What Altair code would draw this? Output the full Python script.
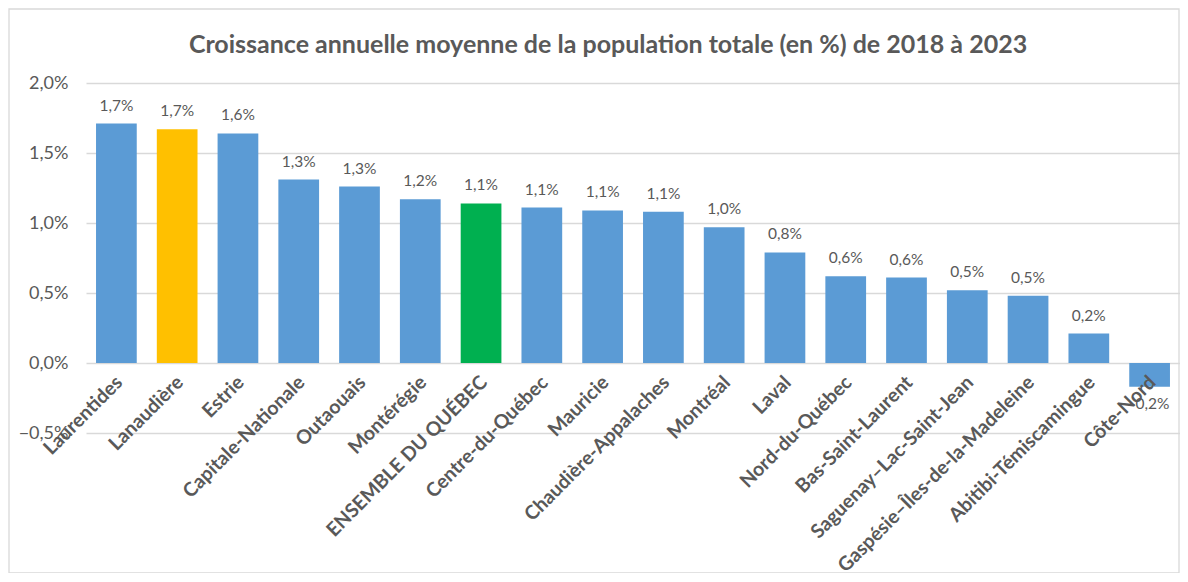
import altair as alt
import pandas as pd

regions = ["Laurentides", "Lanaudière", "Estrie", "Capitale-Nationale", "Outaouais",
           "Montérégie", "ENSEMBLE DU QUÉBEC", "Centre-du-Québec", "Mauricie",
           "Chaudière-Appalaches", "Montréal", "Laval", "Nord-du-Québec",
           "Bas-Saint-Laurent", "Saguenay–Lac-Saint-Jean", "Gaspésie–Îles-de-la-Madeleine",
           "Abitibi-Témiscamingue", "Côte-Nord"]
values = [1.71, 1.67, 1.64, 1.31, 1.26, 1.17, 1.14, 1.11, 1.09, 1.08, 0.97, 0.79,
          0.62, 0.61, 0.52, 0.48, 0.21, -0.17]
groups = ["region"] * 18
groups[1] = "lanaudiere"
groups[6] = "ensemble"
y_ticks = [-0.5, 0.0, 0.5, 1.0, 1.5, 2.0]

labels = [f"{v:.1f}".replace(".", ",") + "%" for v in values]
df = pd.DataFrame({"region": regions, "value": values, "group": groups, "label": labels})

FONT = "Lato"
GRAY = "#595959"

x_enc = alt.X("region:N", sort=regions, title=None,
              scale=alt.Scale(paddingInner=0.33, paddingOuter=0.165),
              axis=alt.Axis(labelAngle=-45, labelAlign="right", labelBaseline="middle",
                            labelFontSize=19.5, labelFontWeight="bold", labelColor=GRAY,
                            labelFont=FONT, domain=False, ticks=False, labelPadding=16,
                            labelOffset=3, offset=-70, labelOverlap=False, labelLimit=400,
                            zindex=1))
y_enc = alt.Y("value:Q", title=None,
              scale=alt.Scale(domain=[-0.5, 2.0], nice=False),
              axis=alt.Axis(values=y_ticks, labelExpr="replace(format(datum.value, '.1f'), '.', ',') + '%'",
                            labelFontSize=18, labelColor=GRAY, labelFont=FONT,
                            domain=False, ticks=False, labelPadding=18,
                            gridColor="#D9D9D9", gridWidth=1.3))

base = alt.Chart(df)

bars = base.mark_bar().encode(
    x=x_enc, y=y_enc,
    color=alt.Color("group:N", legend=None,
                    scale=alt.Scale(domain=["region", "lanaudiere", "ensemble"],
                                    range=["#5B9BD5", "#FFC000", "#00B050"])),
)

pos_text = base.transform_filter("datum.value >= 0").mark_text(
    baseline="bottom", dy=-10, fontSize=15.5, color=GRAY, font=FONT
).encode(x=alt.X("region:N", sort=regions), y="value:Q", text="label:N")

neg_text = base.transform_filter("datum.value < 0").mark_text(
    baseline="top", dy=10, fontSize=15.5, color=GRAY, font=FONT
).encode(x=alt.X("region:N", sort=regions), y="value:Q", text="label:N")

border = alt.Chart(pd.DataFrame({"a": [0]})).mark_rect(
    fill=None, stroke="#D9D9D9", strokeWidth=1.3
).encode(x=alt.value(-77), x2=alt.value(1093), y=alt.value(-74), y2=alt.value(490))

chart = alt.layer(border, bars, pos_text, neg_text).properties(
    width=1094, height=350,
    title=alt.TitleParams("Croissance annuelle moyenne de la population totale (en %) de 2018 à 2023",
                          fontSize=25, fontWeight="bold", color=GRAY, font=FONT,
                          anchor="middle", frame="group", dx=-25, offset=-50),
    autosize=alt.AutoSizeParams(type="none"),
    padding={"left": 78, "top": 75, "right": 0, "bottom": 140},
).configure_view(stroke=None)

chart.save("out.html", embed_options={"renderer": "svg", "actions": False})
